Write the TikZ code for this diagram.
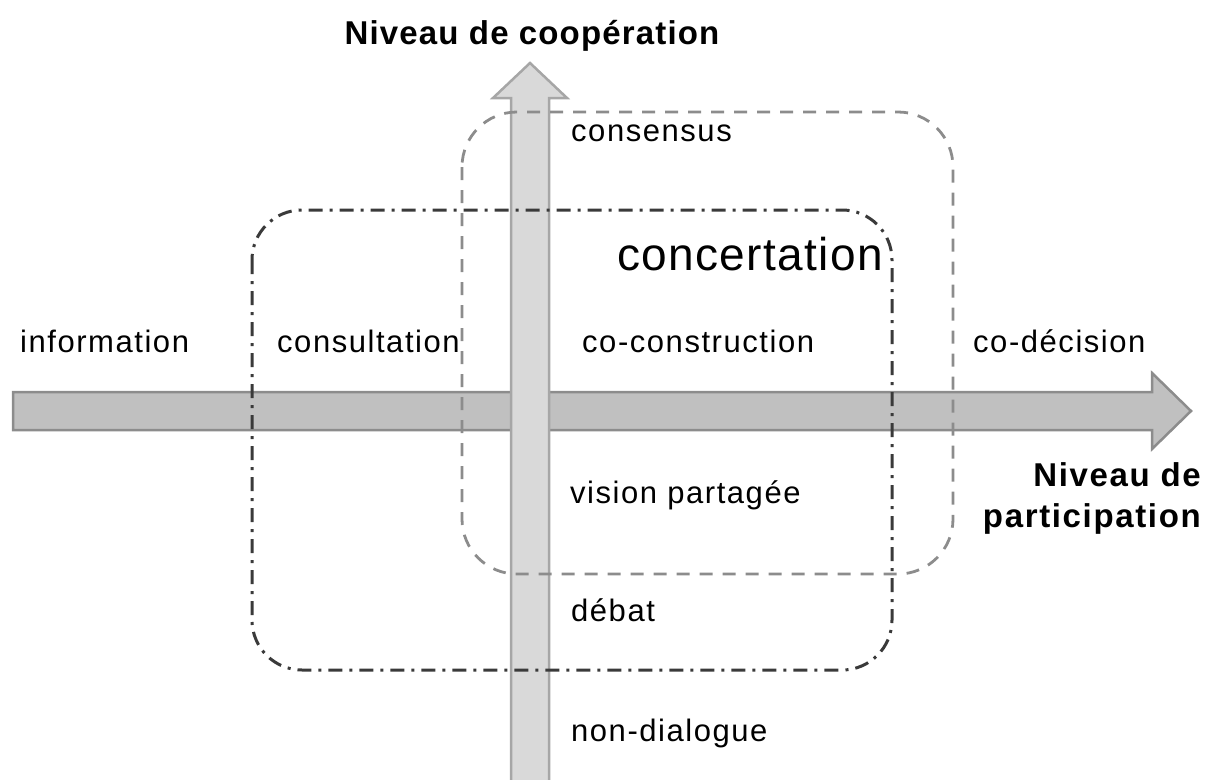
\documentclass[tikz,border=0pt]{standalone}
\usepackage{fontspec}
\setmainfont{Liberation Sans}
\definecolor{harrowfill}{HTML}{C0C0C0}
\definecolor{harrowline}{HTML}{8C8C8C}
\definecolor{varrowfill}{HTML}{D9D9D9}
\definecolor{varrowline}{HTML}{A6A6A6}
\definecolor{graydash}{HTML}{8C8C8C}
\definecolor{darkdash}{HTML}{3A3A3A}
\begin{document}
\begin{tikzpicture}[x=1pt,y=-1pt,
  lbl/.style={inner sep=0pt, anchor=base west, font=\fontsize{31}{36}\selectfont\addfontfeature{LetterSpace=5}},
  ttl/.style={inner sep=0pt, font=\fontsize{33}{40}\selectfont\bfseries\addfontfeature{LetterSpace=3.5}},
  grayframe/.style={draw=graydash, line width=2.8pt, dash pattern=on 13pt off 10pt, rounded corners=55pt},
  darkframe/.style={draw=darkdash, line width=3pt, dash pattern=on 14pt off 7pt on 3pt off 7pt, rounded corners=50pt}]
\useasboundingbox (0,0) rectangle (1212,779);
% horizontal arrow
\draw[fill=harrowfill, draw=harrowline, line width=2.5pt, line join=miter]
  (13,392) -- (1152,392) -- (1152,373) -- (1191,411) -- (1152,449) -- (1152,430) -- (13,430) -- cycle;
% vertical arrow
\draw[fill=varrowfill, draw=varrowline, line width=2.5pt, line join=miter]
  (511,782) -- (511,98) -- (493,98) -- (530,63) -- (567,98) -- (549,98) -- (549,782);
% frames
\draw[grayframe] (462,112) rectangle (953,574);
\draw[darkframe] (252,210) rectangle (892,670);
% titles
\node[ttl] (tcoop) at (532,36) {Niveau de coopération};
\node[inner sep=0pt, font=\fontsize{33}{41}\selectfont\bfseries\addfontfeature{LetterSpace=5}, align=right, anchor=north east] (tpart) at (1201,462) {Niveau de\\participation};
% labels
\node[lbl] (info) at (20,352) {information};
\node[lbl] (consult) at (277,352) {consultation};
\node[lbl] (cocons) at (582,352) {co-construction};
\node[lbl] (codec) at (973,352) {co-décision};
\node[lbl] (consensus) at (571,141) {consensus};
\node[inner sep=0pt, anchor=base west, font=\fontsize{46}{52}\selectfont\addfontfeature{LetterSpace=3}] (concert) at (617,270) {concertation};
\node[lbl] (vision) at (570,503) {vision partagée};
\node[lbl] (debat) at (571,621) {débat};
\node[lbl] (nondia) at (571,741) {non-dialogue};
\end{tikzpicture}
\end{document}
